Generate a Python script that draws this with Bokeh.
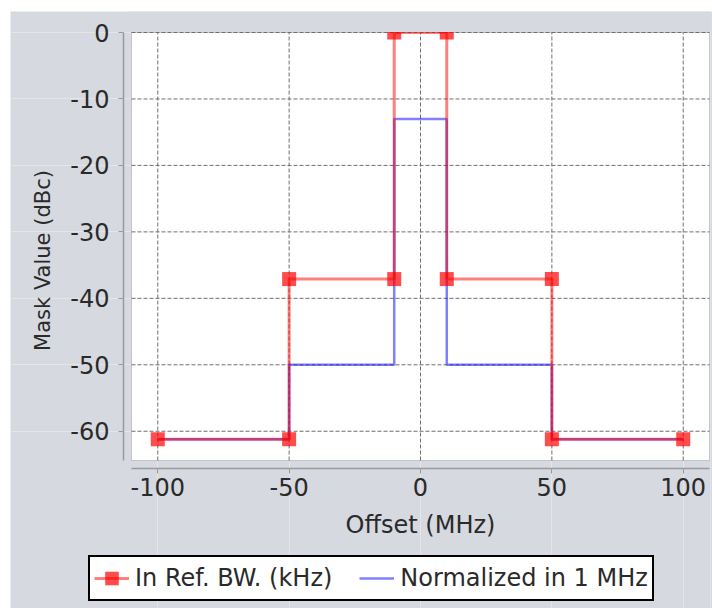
import math
from bokeh.plotting import figure
from bokeh.models import (LinearAxis, FixedTicker, Range1d, Legend, LegendItem,
                          BoxAnnotation, Label)
from bokeh.embed import file_html
from bokeh.resources import INLINE

# ---- data ----
offset_mhz = [-100, -50, -50, -10, -10, 10, 10, 50, 50, 100]
ref_bw_dbc = [-61.2, -61.2, -37.1, -37.1, 0, 0, -37.1, -37.1, -61.2, -61.2]
norm_1mhz_dbc = [-61.2, -61.2, -50, -50, -13, -13, -50, -50, -61.2, -61.2]

x_ticks = [-100, -50, 0, 50, 100]
x_tick_labels = ["-100", "-50", "0", "50", "100"]
y_ticks = [0, -10, -20, -30, -40, -50, -60]
y_tick_labels = ["0", "-10", "-20", "-30", "-40", "-50", "-60"]

series_names = ["In Ref. BW. (kHz)", "Normalized in 1 MHz"]
x_title = "Offset (MHz)"
y_title = "Mask Value (dBc)"

# plot-area value limits
X_MIN, X_MAX = -110, 110
Y_MIN, Y_MAX = -64.4, 0

FONT = "DejaVu Sans"
BG = "#d6d9df"
TXT = "#2a2a2a"
AXC = "#9a9a9a"
GRIDC = "#6f6f6f"

# ---- layout (pixels) ----
FIG_W, FIG_H = 702, 597
FRAME_L, FRAME_R, FRAME_T, FRAME_B = 0, 2, 0, 0        # min borders
AREA_L, AREA_R, AREA_T, AREA_B = 121, 1, 21, 148       # plot area inside the frame
frame_w = FIG_W - FRAME_L - FRAME_R
frame_h = FIG_H - FRAME_T - FRAME_B
area_w = frame_w - AREA_L - AREA_R
area_h = frame_h - AREA_T - AREA_B
kx = (X_MAX - X_MIN) / area_w
ky = (Y_MAX - Y_MIN) / area_h
x_range = Range1d(X_MIN - AREA_L * kx, X_MAX + AREA_R * kx)
y_range = Range1d(Y_MIN - AREA_B * ky, Y_MAX + AREA_T * ky)
AX_GAP = 8

p = figure(width=FIG_W, height=FIG_H, margin=(11, 0, 0, 10),
           output_backend="svg", toolbar_location=None,
           x_range=x_range, y_range=y_range,
           x_axis_location=None, y_axis_location=None,
           min_border_left=FRAME_L, min_border_right=FRAME_R,
           min_border_top=FRAME_T, min_border_bottom=FRAME_B,
           background_fill_color=BG, border_fill_color=BG,
           outline_line_color=None)

# plot area
p.add_layout(BoxAnnotation(left=X_MIN, right=X_MAX, bottom=Y_MIN, top=Y_MAX,
                           fill_color="white", fill_alpha=1,
                           line_color="#6a6a6a", line_width=1, level="underlay"))

# axes, offset from the plot area
ya = LinearAxis(ticker=FixedTicker(ticks=y_ticks), fixed_location=X_MIN - AX_GAP * kx,
                bounds=(Y_MIN, Y_MAX),
                major_label_overrides=dict(zip(y_ticks, y_tick_labels)))
xa = LinearAxis(ticker=FixedTicker(ticks=x_ticks), fixed_location=Y_MIN - AX_GAP * ky,
                bounds=(X_MIN, X_MAX),
                major_label_overrides=dict(zip(x_ticks, x_tick_labels)))
for ax in (xa, ya):
    ax.axis_line_color = AXC
    ax.axis_line_width = 1.5
    ax.major_tick_line_color = AXC
    ax.major_tick_in = 0
    ax.major_tick_out = 5
    ax.minor_tick_line_color = None
    ax.major_label_text_font = FONT
    ax.major_label_text_font_size = "24px"
    ax.major_label_text_color = TXT
ya.major_label_standoff = 9
xa.major_label_standoff = 4
p.add_layout(ya, "left")
p.add_layout(xa, "below")

# axis titles (screen units from the frame's bottom-left)
p.add_layout(Label(x=32, y=348, x_units="screen", y_units="screen", text=y_title,
                   angle=math.pi / 2, text_align="center", text_baseline="middle",
                   text_font=FONT, text_font_size="21px", text_color=TXT))
p.add_layout(Label(x=410, y=84, x_units="screen", y_units="screen", text=x_title,
                   text_align="center", text_baseline="middle",
                   text_font=FONT, text_font_size="24px", text_color=TXT))

# grid lines limited to the plot area
p.segment(x0=x_ticks, x1=x_ticks, y0=[Y_MIN] * len(x_ticks), y1=[Y_MAX] * len(x_ticks),
          line_color=GRIDC, line_dash="4 2", line_width=1)
p.segment(x0=[X_MIN] * len(y_ticks), x1=[X_MAX] * len(y_ticks), y0=y_ticks, y1=y_ticks,
          line_color=GRIDC, line_dash="4 2", line_width=1)

blue = p.line(offset_mhz, norm_1mhz_dbc, line_color="#0000ff", line_alpha=0.5, line_width=2.5)
red = p.line(offset_mhz, ref_bw_dbc, line_color="#ff0000", line_alpha=0.5, line_width=3)
pts = p.scatter(offset_mhz, ref_bw_dbc, marker="square", size=14,
                fill_color="#ff0000", fill_alpha=0.7, line_color=None)

# marks are clipped at the top of the plot area
p.add_layout(BoxAnnotation(left=X_MIN - 2 * kx, right=X_MAX + 2 * kx,
                           bottom=Y_MAX + 0.5 * ky, top=y_range.end,
                           fill_color=BG, fill_alpha=1, line_color=None, level="glyph"))

legend = Legend(items=[LegendItem(label=series_names[0], renderers=[red, pts]),
                       LegendItem(label=series_names[1], renderers=[blue])],
                location=(78, 7), orientation="horizontal",
                label_text_font=FONT, label_text_font_size="24px", label_text_color=TXT,
                glyph_width=35, glyph_height=34, label_standoff=6, spacing=27,
                padding=4, margin=0,
                border_line_color="#000000", border_line_alpha=1, border_line_width=2,
                background_fill_color="white", background_fill_alpha=1)
p.add_layout(legend)

open("out.html", "w").write(file_html(p, INLINE))
